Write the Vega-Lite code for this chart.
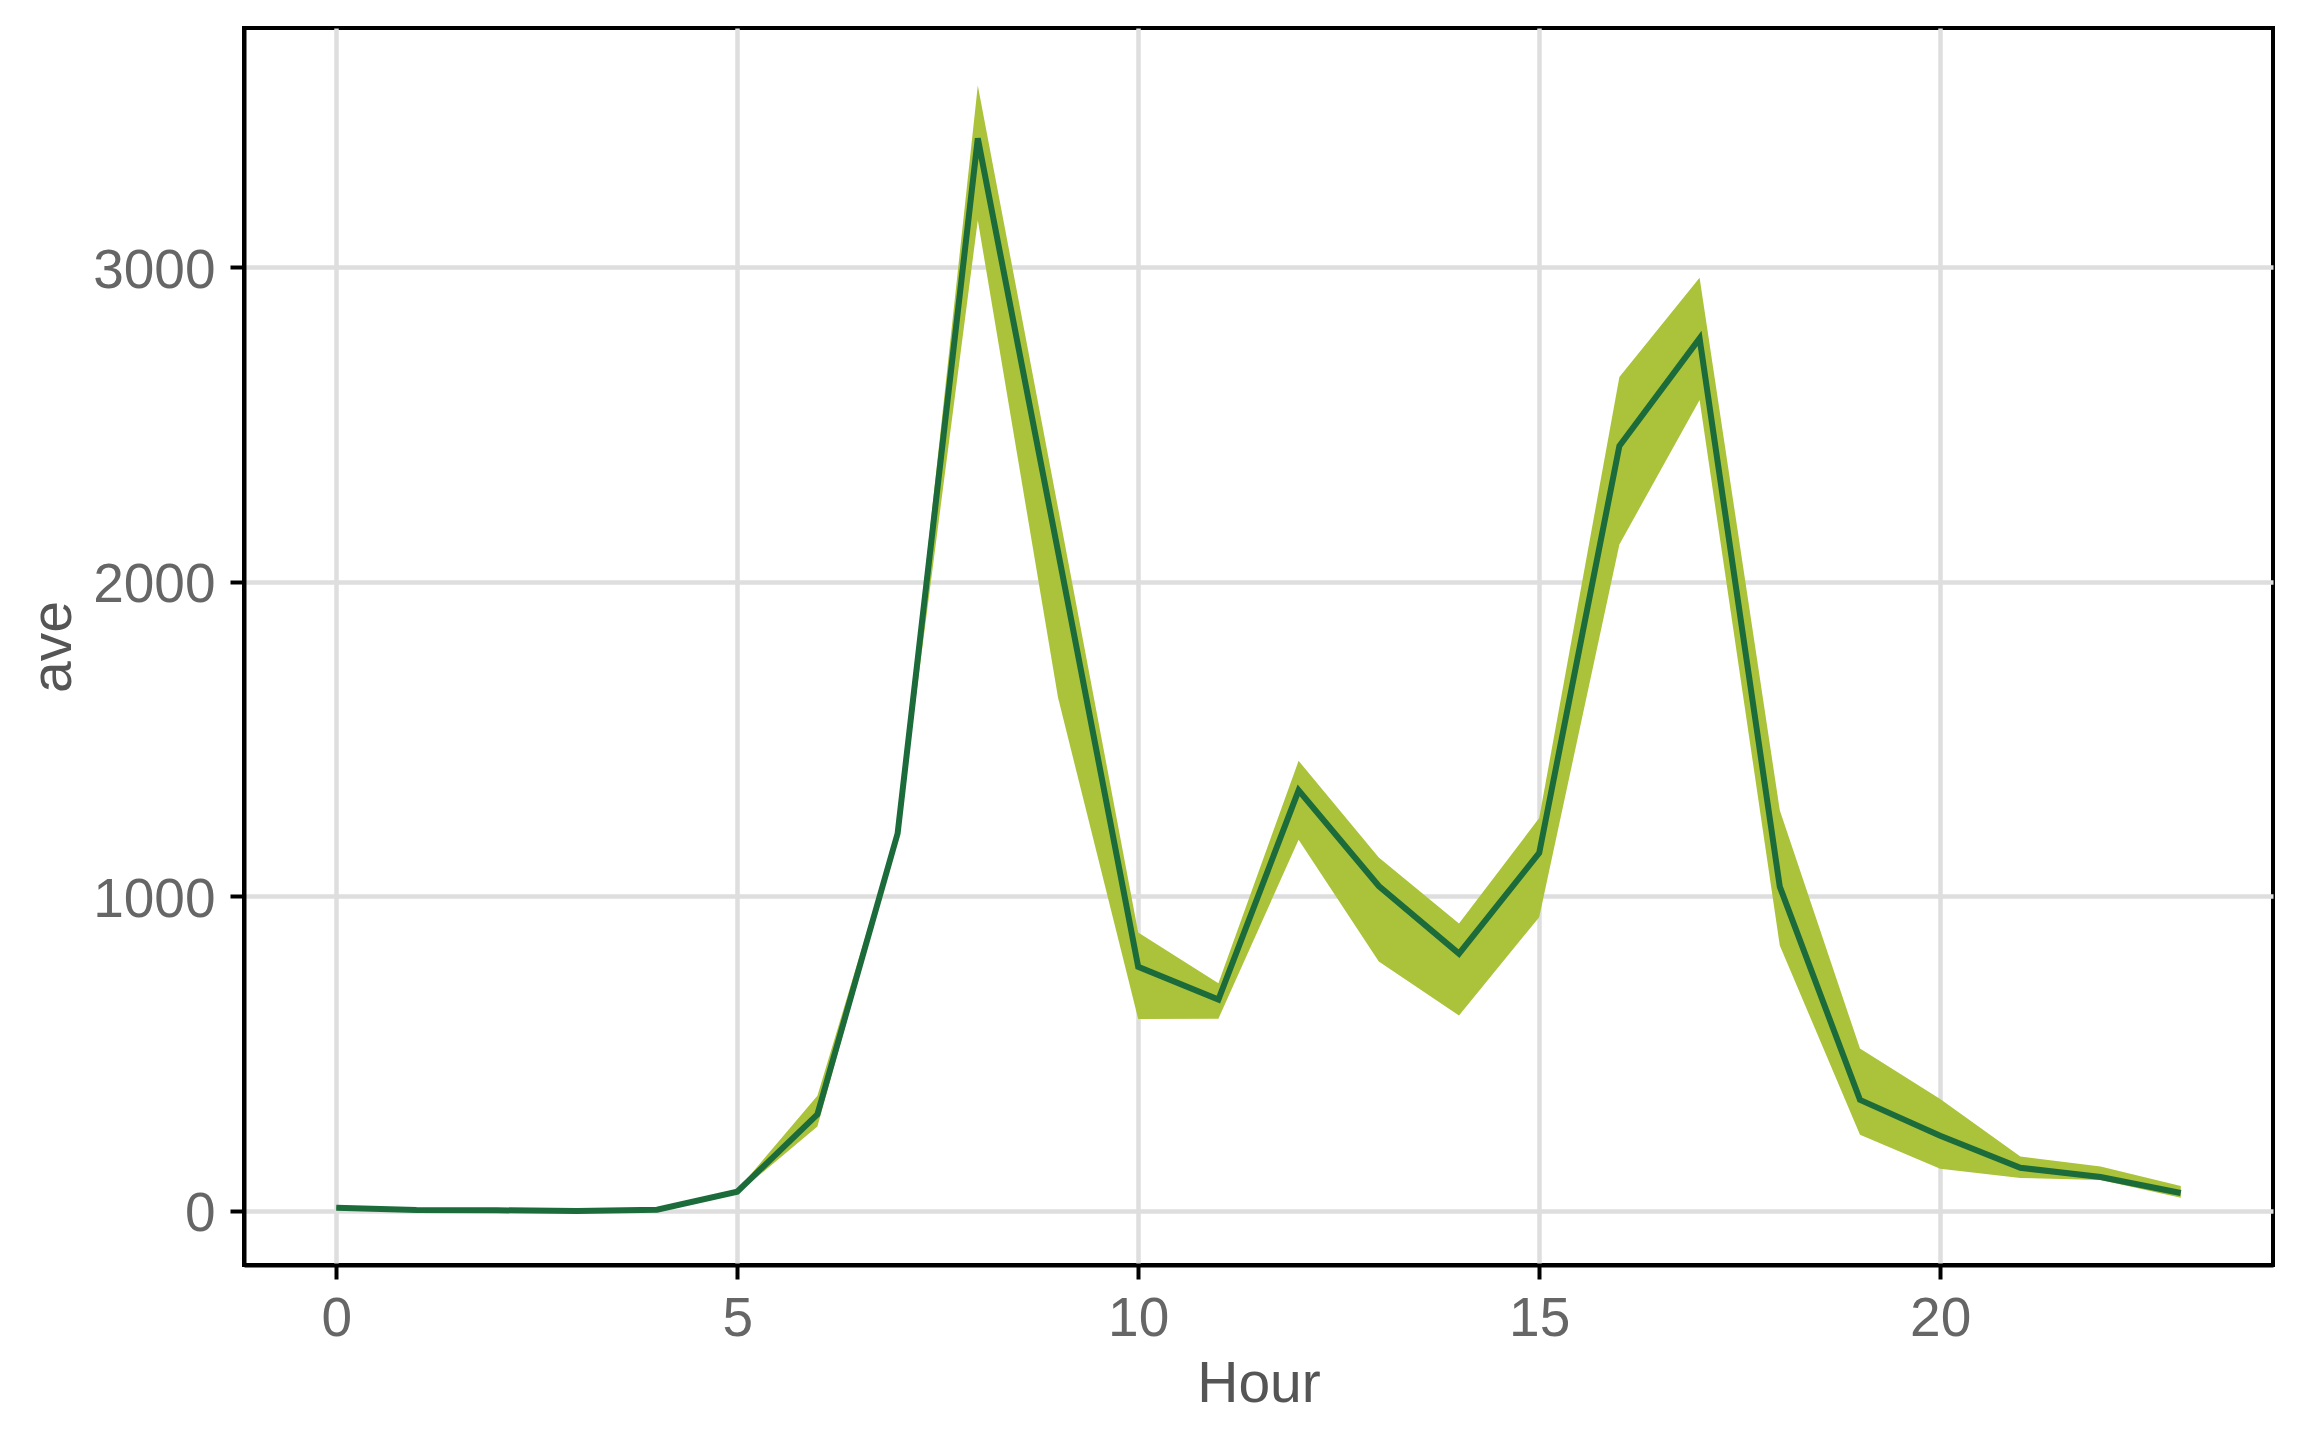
{
  "$schema": "https://vega.github.io/schema/vega-lite/v6.json",
  "autosize": {"type": "none"},
  "width": 2029,
  "height": 1237,
  "padding": {"left": 244, "top": 28, "right": 31, "bottom": 175},
  "background": "white",
  "config": {
    "font": "Liberation Sans",
    "view": {"stroke": "black", "strokeWidth": 4}
  },
  "data": {
    "values": [
      {"Hour": 0, "ave": 10, "lower": 8, "upper": 12},
      {"Hour": 1, "ave": 3, "lower": 1, "upper": 5},
      {"Hour": 2, "ave": 2, "lower": 1, "upper": 4},
      {"Hour": 3, "ave": 0, "lower": -1, "upper": 2},
      {"Hour": 4, "ave": 4, "lower": 2, "upper": 6},
      {"Hour": 5, "ave": 61, "lower": 55, "upper": 66},
      {"Hour": 6, "ave": 307, "lower": 268, "upper": 366},
      {"Hour": 7, "ave": 1200, "lower": 1185, "upper": 1212},
      {"Hour": 8, "ave": 3410, "lower": 3150, "upper": 3578},
      {"Hour": 9, "ave": 2097, "lower": 1632, "upper": 2236},
      {"Hour": 10, "ave": 776, "lower": 610, "upper": 885},
      {"Hour": 11, "ave": 672, "lower": 611, "upper": 724},
      {"Hour": 12, "ave": 1337, "lower": 1180, "upper": 1431},
      {"Hour": 13, "ave": 1033, "lower": 793, "upper": 1124},
      {"Hour": 14, "ave": 818, "lower": 621, "upper": 914},
      {"Hour": 15, "ave": 1138, "lower": 934, "upper": 1249},
      {"Hour": 16, "ave": 2432, "lower": 2119, "upper": 2651},
      {"Hour": 17, "ave": 2774, "lower": 2578, "upper": 2967},
      {"Hour": 18, "ave": 1031, "lower": 844, "upper": 1274},
      {"Hour": 19, "ave": 353, "lower": 242, "upper": 516},
      {"Hour": 20, "ave": 239, "lower": 134, "upper": 356},
      {"Hour": 21, "ave": 137, "lower": 105, "upper": 173},
      {"Hour": 22, "ave": 108, "lower": 98, "upper": 141},
      {"Hour": 23, "ave": 57, "lower": 42, "upper": 79}
    ]
  },
  "encoding": {
    "x": {
      "field": "Hour",
      "type": "quantitative",
      "scale": {"domain": [-1.15, 24.15], "nice": false, "zero": false},
      "axis": {
        "title": "Hour",
        "values": [0, 5, 10, 15, 20],
        "format": "d",
        "grid": true,
        "gridColor": "#dedede",
        "gridWidth": 4.5,
        "domainColor": "black",
        "domainWidth": 4,
        "tickColor": "black",
        "tickWidth": 4,
        "tickSize": 14,
        "labelFont": "Liberation Sans",
        "labelFontSize": 55,
        "labelColor": "#666666",
        "labelPadding": 56,
        "labelBaseline": "alphabetic",
        "labelFlush": false,
        "labelOverlap": false,
        "titleFont": "Liberation Sans",
        "titleFontSize": 57,
        "titleFontWeight": "normal",
        "titleColor": "#555555",
        "titleX": 1014.5,
        "titleY": 136,
        "titleBaseline": "alphabetic",
        "titleAlign": "center"
      }
    }
  },
  "layer": [
    {
      "mark": {"type": "area", "color": "#abc33b", "opacity": 1},
      "encoding": {
        "y": {
          "field": "lower",
          "type": "quantitative",
          "scale": {"domain": [-172, 3761], "nice": false, "zero": false},
          "axis": {
            "title": "ave",
            "values": [0, 1000, 2000, 3000],
            "format": "d",
            "grid": true,
            "gridColor": "#dedede",
            "gridWidth": 4.5,
            "domainColor": "black",
            "domainWidth": 4,
            "tickColor": "black",
            "tickWidth": 4,
            "tickSize": 14,
            "labelFont": "Liberation Sans",
            "labelFontSize": 55,
            "labelColor": "#666666",
            "labelPadding": 15,
            "labelBaseline": "alphabetic",
            "labelOffset": 20,
            "labelFlush": false,
            "labelOverlap": false,
            "titleFont": "Liberation Sans",
            "titleFontSize": 57,
            "titleFontWeight": "normal",
            "titleColor": "#555555",
            "titleX": -174,
            "titleY": 618.5,
            "titleAngle": -90,
            "titleBaseline": "alphabetic",
            "titleAlign": "center"
          }
        },
        "y2": {"field": "upper"}
      }
    },
    {
      "mark": {"type": "line", "color": "#1c6b3b", "strokeWidth": 6},
      "encoding": {
        "y": {"field": "ave", "type": "quantitative", "title": "ave"}
      }
    }
  ]
}
